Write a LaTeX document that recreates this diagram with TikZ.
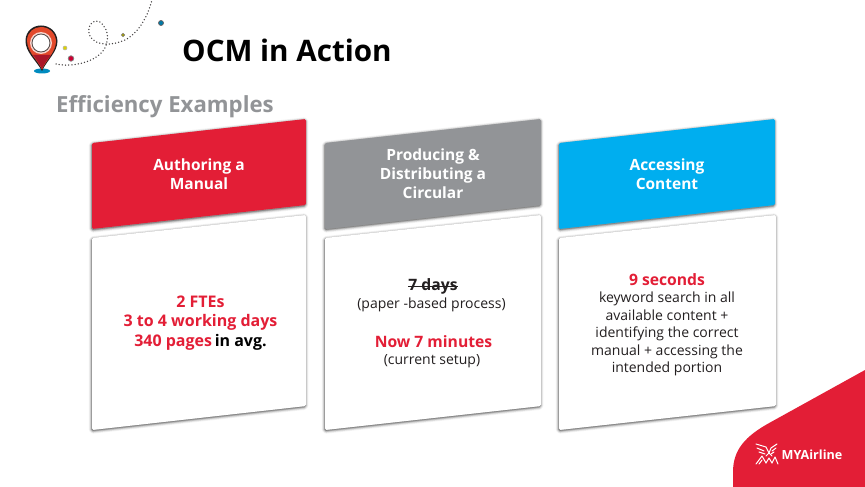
\documentclass[tikz,border=0pt]{standalone}
\usepackage{fontspec}
\setmainfont[Ligatures=NoCommon]{Open Sans}
\definecolor{myred}{HTML}{E31E36}
\definecolor{mygray}{HTML}{929497}
\definecolor{myblue}{HTML}{00AEEF}
\definecolor{mytext}{HTML}{231F20}
\definecolor{pinred}{HTML}{E2492B}
\definecolor{shadowgray}{HTML}{6E6E6E}
\tikzset{
  px/.style={x=1pt,y=-1pt},
  halo/.style={draw=shadowgray,fill=shadowgray,line join=round,rounded corners=1.5pt},
  headtext/.style={font=\fontsize{15.5}{19}\selectfont\bfseries,text=white,align=center},
  bodytext/.style={font=\fontsize{14}{17.6}\selectfont,text=mytext,align=center},
  redbold/.style={font=\fontsize{15.7}{19}\selectfont\bfseries,text=myred,align=center},
  mapdot/.style={circle,inner sep=0pt,minimum size=#1},
}
\newcommand{\shadowedpanel}[5]{%
  \begin{scope}[shift={(-0.4,1)}]
    \foreach \w/\o in {5.5/0.08,4/0.14,2.5/0.22,1.2/0.3}{
      \draw[halo,line width=\w pt,opacity=\o] #1 -- #2 -- #3 -- #4 -- cycle;
    }
  \end{scope}
  \fill[#5,rounded corners=1.5pt] #1 -- #2 -- #3 -- #4 -- cycle;
}
\begin{document}
\begin{tikzpicture}[px]
\useasboundingbox (0,0) rectangle (865,487);
\fill[white] (0,0) rectangle (865,487);

% corner brand shape
\fill[myred] (865,370) -- (771,422) .. controls (745,436) and (733,450) .. (733,472) -- (733,487) -- (865,487) -- cycle;

% logo mark
\begin{scope}[draw=white,line width=1pt,line cap=round,line join=round]
  \draw (756,444) -- (766,447) -- (769,453) -- (766,456);
  \draw (757,448) -- (764,451);
  \draw (759,452) -- (765,454);
  \draw (777,444) -- (771,448) -- (769,453) -- (772,456);
  \draw (776,448) -- (772,451);
  \draw (774,452) -- (771,454);
  \draw (756,464) -- (762,456) -- (766,463);
  \draw (759,464) -- (762,460);
  \draw (766,463) -- (769,458) -- (772,463);
  \draw (772,463) -- (775,457) -- (778,464);
\end{scope}
\node[text=white,font=\fontsize{12.6}{13}\selectfont\bfseries,anchor=west,inner sep=0pt] (brand) at (781.5,454.5) {MYAirline};

% map route
\draw[line width=1.5pt,line cap=round,mytext!85,dash pattern=on 0pt off 3.2pt]
  (56,64) .. controls (70,67) and (92,64) .. (103,51)
  .. controls (109,43) and (110,30) .. (100,22)
  .. controls (92,18) and (86,28) .. (90,36)
  .. controls (95,46) and (112,46) .. (125,40)
  .. controls (140,32) and (148,15) .. (152,0);

% pin
\fill[myblue!80!black] (42,71) ellipse (8 and 2.5);
\fill[mytext] (42,71) .. controls (36,60) and (25,52) .. (25.5,40)
  .. controls (26,31) and (33,25.5) .. (41,25.5)
  .. controls (50,25.5) and (57,32) .. (57.5,41)
  .. controls (57.5,52) and (47,60) .. (42,71) -- cycle;
\fill[pinred] (42,69.5) .. controls (37,59) and (27,52) .. (27,40)
  .. controls (27.5,32) and (34,27) .. (41,27)
  .. controls (49,27) and (55.5,33) .. (56,41)
  .. controls (56,52) and (46,60) .. (42,69.5) -- cycle;
\fill[myred!75!black] (42,69) .. controls (38,61) and (35,58) .. (33,55) -- (51,55) .. controls (48,59) and (45,62) .. (42,69) -- cycle;
\fill[white!75!pinred] (41,43) circle (11);
\fill[white] (41,43) circle (8.6);
\draw[mytext!80,line width=0.8pt] (41,43) circle (9);
\node[mapdot=4pt,fill=yellow!70!olive,draw=gray!60,line width=0.5pt] (d1) at (65,48) {};
\node[mapdot=5.5pt,fill=purple!80!red,draw=gray,line width=0.7pt] (d2) at (71,58.5) {};
\node[mapdot=3.5pt,fill=olive!80!yellow,draw=gray,line width=0.5pt] (d3) at (123,35) {};
\node[mapdot=5pt,fill=myblue!70!black,draw=mytext!70,line width=0.7pt] (d4) at (161,23) {};

% titles
\node[anchor=west,inner sep=0pt,font=\fontsize{29.6}{32}\selectfont\bfseries,text=black] (title) at (182,50.5) {OCM in Action};
\node[anchor=west,inner sep=0pt,font=\fontsize{22.2}{26}\selectfont\bfseries,text=mygray] (sub) at (56,107) {Efficiency Examples};

% panels
\shadowedpanel{(92,143)}{(306,119)}{(306,205)}{(92,229)}{myred}
\shadowedpanel{(325,143)}{(541,119)}{(541,205)}{(325,229)}{mygray}
\shadowedpanel{(559,143)}{(775,119)}{(775,205)}{(559,229)}{myblue}
\shadowedpanel{(92,238)}{(306,215)}{(306,406)}{(92,430)}{white}
\shadowedpanel{(325,238)}{(541,215)}{(541,406)}{(325,430)}{white}
\shadowedpanel{(559,238)}{(776,215)}{(776,406)}{(559,430)}{white}

% headings
\node[headtext] (h1) at (199,174) {Authoring a\\Manual};
\node[headtext] (h2) at (433,174) {Producing \&\\Distributing a\\Circular};
\node[headtext] (h3) at (667,174) {Accessing\\Content};

% card 1
\node[redbold,font=\fontsize{16}{19.6}\selectfont\bfseries] (c1) at (200.5,323) {2 FTEs\\3 to 4 working days\\340 pages\,{\color{black}in avg.}};

% card 2
\node[font=\fontsize{15.7}{19}\selectfont\bfseries,text=mytext,inner sep=0pt] (c2a) at (433,286) {7 days};
\draw[mytext,line width=0.9pt] (c2a.west) -- (c2a.east);
\node[bodytext,inner sep=0pt] (c2b) at (431.5,305) {(paper -based process)};
\node[redbold,inner sep=0pt] (c2c) at (433.5,342) {Now 7 minutes};
\node[bodytext,inner sep=0pt] (c2d) at (432,361) {(current setup)};

% card 3
\node[redbold,inner sep=0pt] (c3a) at (667,280) {9 seconds};
\node[bodytext,inner sep=0pt] (c3b) at (667,334) {keyword search in all\\available content +\\identifying the correct\\manual + accessing the\\intended portion};
\end{tikzpicture}
\end{document}
